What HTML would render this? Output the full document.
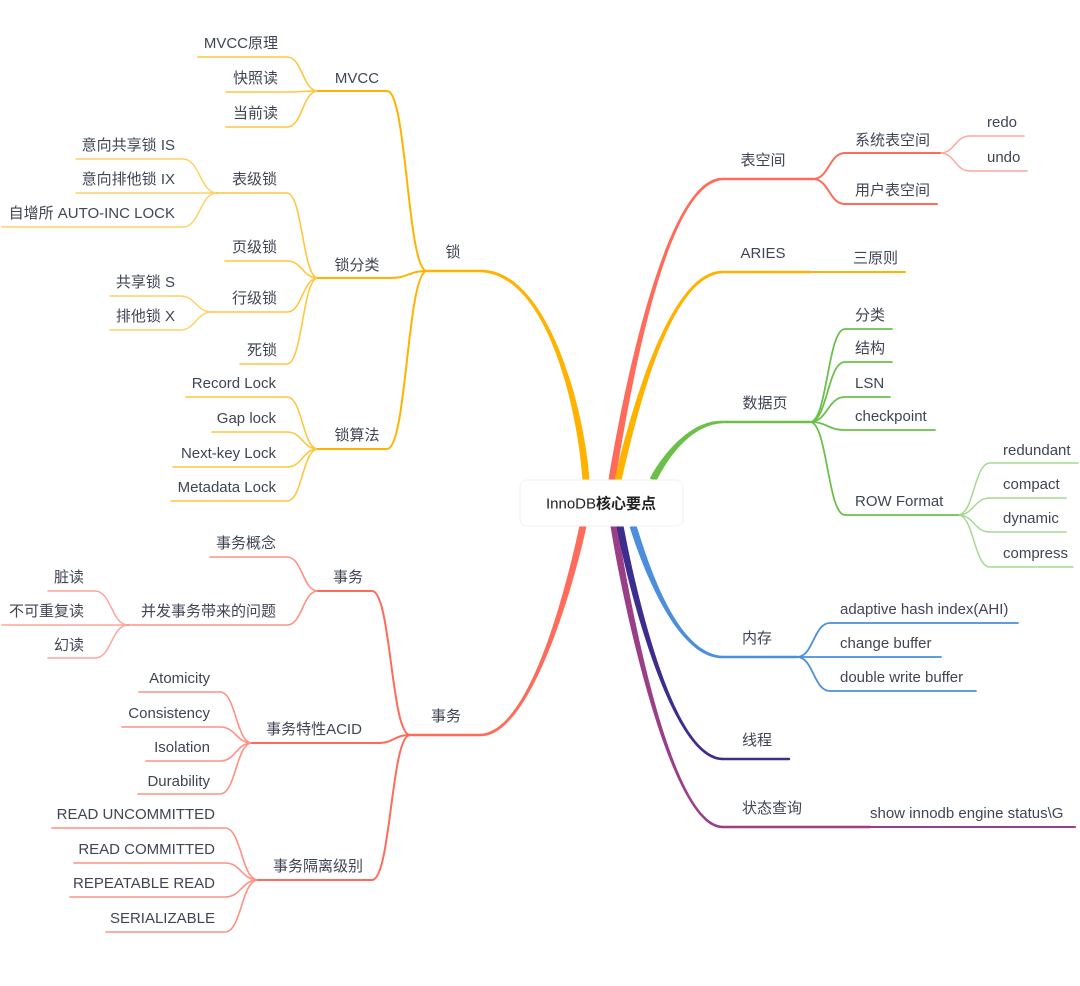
<!DOCTYPE html>
<html><head><meta charset="utf-8"><style>
html,body{margin:0;padding:0;background:#fff;}
svg{display:block;}
text{font-family:"Liberation Sans","Noto Sans CJK SC",sans-serif;font-size:15px;fill:#3f4555;}
.e{text-anchor:end}.m{text-anchor:middle}
g.l path{fill:none;stroke-linecap:round}
</style></head><body>
<svg width="1080" height="986" viewBox="0 0 1080 986" xmlns="http://www.w3.org/2000/svg">

<!-- main tapered curves -->
<path style="fill:#FFB300;stroke:none" d="M589.49 479.74 C583.49 399.74 545 268.2 480 269.8 L480 272.2 C545 273.8 576.51 400.26 582.51 480.26 Z"/>
<path style="fill:#FF6B5A;stroke:none" d="M615.45 480.56 C628.45 400.56 665 181.8 723 180.2 L723 177.8 C665 176.2 621.55 399.44 608.55 479.44 Z"/>
<path style="fill:#FFB300;stroke:none" d="M621.41 480.79 C634.41 424.79 668 274.8 723 273.2 L723 270.8 C668 269.2 627.59 423.21 614.59 479.21 Z"/>
<path style="fill:#6CC04A;stroke:none" d="M656.13 481.56 C664.13 465.56 687 424.8 723 423.2 L723 420.8 C687 419.2 657.87 462.44 649.87 478.44 Z"/>
<path style="fill:#FF6B5A;stroke:none" d="M579.58 525.27 C567.58 581.27 531 732.2 480 733.8 L480 736.2 C531 737.8 574.42 582.73 586.42 526.73 Z"/>
<path style="fill:#4A8EDC;stroke:none" d="M629.66 527.05 C640.66 562.05 676 659.8 723 658.2 L723 655.8 C676 654.2 647.34 559.95 636.34 524.95 Z"/>
<path style="fill:#9A3E88;stroke:none" d="M610.55 526.55 C623.55 607.55 671 829.8 723 828.2 L723 825.8 C671 824.2 630.45 606.45 617.45 525.45 Z"/>
<path style="fill:#3D2D8E;stroke:none" d="M616.56 526.65 C628.56 589.65 672 761.8 723 760.2 L723 757.8 C672 756.2 635.44 588.35 623.44 525.35 Z"/>

<g class="l">
<!-- 锁 branch (orange) -->
<g stroke="#FFB300">
<path d="M427 271 L480 271" stroke-width="2.4"/>
<g stroke-width="2">
<path d="M318 91 L387 91 C407 91 407 271 427 271"/>
<path d="M318 278 L390 278 C408.5 278 408.5 271 427 271"/>
<path d="M318 449 L387 449 C407 449 407 271 427 271"/>
</g>
<g stroke-width="1.6" opacity="0.75">
<path d="M198 57 L287 57 C302.5 57 302.5 91 318 91"/>
<path d="M226 92 L287 92 C302.5 92 302.5 91 318 91"/>
<path d="M226 127 L287 127 C302.5 127 302.5 91 318 91"/>
<path d="M217 193 L287 193 C302.5 193 302.5 278 318 278"/>
<path d="M225 261 L287 261 C302.5 261 302.5 278 318 278"/>
<path d="M212 312 L287 312 C302.5 312 302.5 278 318 278"/>
<path d="M240 364 L287 364 C302.5 364 302.5 278 318 278"/>
<path d="M186 397 L287 397 C302.5 397 302.5 449 318 449"/>
<path d="M212 432 L287 432 C302.5 432 302.5 449 318 449"/>
<path d="M173 467 L287 467 C302.5 467 302.5 449 318 449"/>
<path d="M171 501 L287 501 C302.5 501 302.5 449 318 449"/>
</g>
<g stroke-width="1.5" opacity="0.6">
<path d="M76 159 L183 159 C200 159 200 193 217 193"/>
<path d="M76 193 L217 193"/>
<path d="M2 227 L183 227 C200 227 200 193 217 193"/>
<path d="M110 296 L180 296 C196 296 196 312 212 312"/>
<path d="M110 330 L180 330 C196 330 196 312 212 312"/>
</g>
</g>

<!-- 事务 branch (red) -->
<g stroke="#FF6B5A">
<path d="M410 735 L480 735" stroke-width="2.4"/>
<g stroke-width="2">
<path d="M318 591 L372 591 C391 591 391 735 410 735"/>
<path d="M252 743 L378 743 C394 743 394 735 410 735"/>
<path d="M258 880 L372 880 C391 880 391 735 410 735"/>
</g>
<g stroke-width="1.6" opacity="0.75">
<path d="M210 557 L287 557 C302.5 557 302.5 591 318 591"/>
<path d="M128 625 L287 625 C302.5 625 302.5 591 318 591"/>
<path d="M139 692 L220 692 C236 692 236 743 252 743"/>
<path d="M122 727 L220 727 C236 727 236 743 252 743"/>
<path d="M146 761 L220 761 C236 761 236 743 252 743"/>
<path d="M138 794 L220 794 C236 794 236 743 252 743"/>
<path d="M52 828 L225 828 C241.5 828 241.5 880 258 880"/>
<path d="M74 863 L225 863 C241.5 863 241.5 880 258 880"/>
<path d="M70 897 L225 897 C241.5 897 241.5 880 258 880"/>
<path d="M106 932 L225 932 C241.5 932 241.5 880 258 880"/>
</g>
<g stroke-width="1.5" opacity="0.6">
<path d="M48 591 L95 591 C111.5 591 111.5 625 128 625"/>
<path d="M2 625 L128 625"/>
<path d="M48 658 L95 658 C111.5 658 111.5 625 128 625"/>
</g>
</g>

<!-- 表空间 (red) -->
<g stroke="#FF6B5A">
<path d="M723 179 L813 179" stroke-width="2.4"/>
<g stroke-width="2">
<path d="M813 179 C829 179 829 153 845 153 L940 153"/>
<path d="M813 179 C829 179 829 204 845 204 L937 204"/>
</g>
<g stroke-width="1.5" opacity="0.6">
<path d="M940 153 C955 153 955 136 970 136 L1024 136"/>
<path d="M940 153 C955 153 955 171 970 171 L1027 171"/>
</g>
</g>

<!-- ARIES (orange) -->
<g stroke="#FFB300">
<path d="M723 272 L810 272" stroke-width="2.4"/>
<path d="M810 272 L905 272" stroke-width="2"/>
</g>

<!-- 数据页 (green) -->
<g stroke="#6CC04A">
<path d="M723 422 L810 422" stroke-width="2.4"/>
<g stroke-width="1.8">
<path d="M810 422 C827.5 422 827.5 329 845 329 L892 329"/>
<path d="M810 422 C827.5 422 827.5 362 845 362 L892 362"/>
<path d="M810 422 C827.5 422 827.5 397 845 397 L890 397"/>
<path d="M810 422 C827.5 422 827.5 430 845 430 L935 430"/>
<path d="M810 422 C827.5 422 827.5 515 845 515 L958 515"/>
</g>
<g stroke-width="1.5" opacity="0.6">
<path d="M958 515 C974 515 974 463 990 463 L1078 463"/>
<path d="M958 515 C974 515 974 498 990 498 L1066 498"/>
<path d="M958 515 C974 515 974 532 990 532 L1066 532"/>
<path d="M958 515 C974 515 974 567 990 567 L1073 567"/>
</g>
</g>

<!-- 内存 (blue) -->
<g stroke="#4A8EDC">
<path d="M723 657 L797 657" stroke-width="2.4"/>
<g stroke-width="1.8">
<path d="M797 657 C813.5 657 813.5 623 830 623 L1018 623"/>
<path d="M797 657 L941 657"/>
<path d="M797 657 C813.5 657 813.5 691 830 691 L976 691"/>
</g>
</g>

<!-- 线程 / 状态查询 -->
<path d="M723 759 L789 759" stroke="#3D2D8E" stroke-width="2.4"/>
<path d="M723 827 L870 827" stroke="#9A3E88" stroke-width="2.4"/>
<path d="M870 827 L1075 827" stroke="#9A3E88" stroke-width="2"/>
</g>

<!-- center node -->
<rect x="520" y="480" width="163" height="46" rx="7" fill="#fff" stroke="#f2f2f2"/>
<text x="601" y="508.5" class="m" style="fill:#222;font-size:15px">InnoDB<tspan font-weight="bold">核心要点</tspan></text>

<!-- left labels -->
<text x="453" y="257" class="m">锁</text>
<text x="357" y="83" class="m">MVCC</text>
<text x="278" y="48" class="e">MVCC原理</text>
<text x="278" y="83" class="e">快照读</text>
<text x="278" y="118" class="e">当前读</text>
<text x="357" y="270" class="m">锁分类</text>
<text x="277" y="184" class="e">表级锁</text>
<text x="175" y="150" class="e">意向共享锁 IS</text>
<text x="175" y="184" class="e">意向排他锁 IX</text>
<text x="175" y="218" class="e">自增所 AUTO-INC LOCK</text>
<text x="277" y="252" class="e">页级锁</text>
<text x="277" y="303" class="e">行级锁</text>
<text x="175" y="287" class="e">共享锁 S</text>
<text x="175" y="321" class="e">排他锁 X</text>
<text x="277" y="355" class="e">死锁</text>
<text x="357" y="440" class="m">锁算法</text>
<text x="276" y="388" class="e">Record Lock</text>
<text x="276" y="423" class="e">Gap lock</text>
<text x="276" y="458" class="e">Next-key Lock</text>
<text x="276" y="492" class="e">Metadata Lock</text>

<text x="446" y="721" class="m">事务</text>
<text x="348" y="582" class="m">事务</text>
<text x="276" y="548" class="e">事务概念</text>
<text x="276" y="616" class="e">并发事务带来的问题</text>
<text x="84" y="582" class="e">脏读</text>
<text x="84" y="616" class="e">不可重复读</text>
<text x="84" y="650" class="e">幻读</text>
<text x="314" y="734" class="m">事务特性ACID</text>
<text x="210" y="683" class="e">Atomicity</text>
<text x="210" y="718" class="e">Consistency</text>
<text x="210" y="752" class="e">Isolation</text>
<text x="210" y="786" class="e">Durability</text>
<text x="318" y="871" class="m">事务隔离级别</text>
<text x="215" y="819" class="e">READ UNCOMMITTED</text>
<text x="215" y="854" class="e">READ COMMITTED</text>
<text x="215" y="888" class="e">REPEATABLE READ</text>
<text x="215" y="923" class="e">SERIALIZABLE</text>

<!-- right labels -->
<text x="763" y="165" class="m">表空间</text>
<text x="855" y="145">系统表空间</text>
<text x="855" y="195">用户表空间</text>
<text x="987" y="127">redo</text>
<text x="987" y="162">undo</text>
<text x="763" y="258" class="m">ARIES</text>
<text x="853" y="263">三原则</text>
<text x="765" y="408" class="m">数据页</text>
<text x="855" y="320">分类</text>
<text x="855" y="353">结构</text>
<text x="855" y="388">LSN</text>
<text x="855" y="421">checkpoint</text>
<text x="855" y="506">ROW Format</text>
<text x="1003" y="455">redundant</text>
<text x="1003" y="489">compact</text>
<text x="1003" y="523">dynamic</text>
<text x="1003" y="558">compress</text>
<text x="757" y="643" class="m">内存</text>
<text x="840" y="614">adaptive hash index(AHI)</text>
<text x="840" y="648">change buffer</text>
<text x="840" y="682">double write buffer</text>
<text x="757" y="745" class="m">线程</text>
<text x="772" y="813" class="m">状态查询</text>
<text x="870" y="818">show innodb engine status\G</text>
</svg>
</body></html>
